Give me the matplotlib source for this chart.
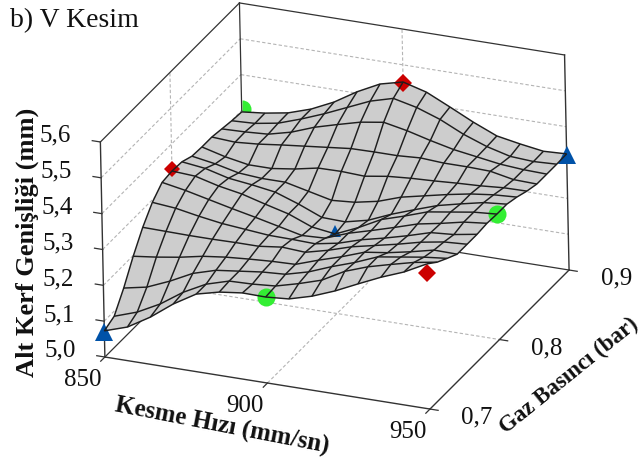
"""
V kesim için yanıt yüzeyi grafiği (Alt Kerf Genişliği)
"""

import numpy as np
import matplotlib
matplotlib.use("Agg")
import matplotlib.pyplot as plt
from mpl_toolkits.mplot3d import proj3d

plt.rcParams["font.family"] = ["Liberation Serif", "DejaVu Serif"]

# ── Veri ──────────────────────────────────────────────
X_TICKS = [850, 900, 950]
Y_TICKS = [0.7, 0.8, 0.9]
Z_TICKS = [5.0, 5.1, 5.2, 5.3, 5.4, 5.5, 5.6]

# rows: gas pressure 0.7 -> 0.9, columns: cutting speed 850 -> 950
SURFACE = [
    [5.073, 5.094, 5.132, 5.179, 5.217, 5.233, 5.241, 5.240, 5.245, 5.263, 5.288, 5.318, 5.347, 5.372, 5.405],
    [5.086, 5.108, 5.141, 5.184, 5.217, 5.236, 5.238, 5.243, 5.260, 5.280, 5.315, 5.338, 5.355, 5.371, 5.382],
    [5.137, 5.150, 5.177, 5.209, 5.228, 5.236, 5.244, 5.248, 5.265, 5.290, 5.312, 5.338, 5.348, 5.358, 5.365],
    [5.198, 5.206, 5.216, 5.229, 5.237, 5.242, 5.246, 5.248, 5.270, 5.290, 5.313, 5.322, 5.335, 5.350, 5.349],
    [5.251, 5.250, 5.249, 5.249, 5.250, 5.250, 5.258, 5.254, 5.270, 5.290, 5.304, 5.318, 5.334, 5.345, 5.349],
    [5.293, 5.287, 5.275, 5.265, 5.259, 5.253, 5.252, 5.250, 5.262, 5.282, 5.297, 5.314, 5.333, 5.338, 5.349],
    [5.321, 5.309, 5.294, 5.279, 5.265, 5.250, 5.235, 5.238, 5.262, 5.280, 5.299, 5.319, 5.331, 5.345, 5.352],
    [5.325, 5.321, 5.304, 5.292, 5.274, 5.257, 5.231, 5.222, 5.250, 5.283, 5.303, 5.325, 5.335, 5.345, 5.350],
    [5.323, 5.315, 5.298, 5.290, 5.280, 5.257, 5.230, 5.228, 5.243, 5.270, 5.293, 5.315, 5.330, 5.344, 5.350],
    [5.311, 5.300, 5.285, 5.280, 5.280, 5.265, 5.250, 5.255, 5.268, 5.290, 5.304, 5.318, 5.330, 5.338, 5.342],
    [5.309, 5.292, 5.280, 5.280, 5.289, 5.302, 5.303, 5.300, 5.310, 5.315, 5.318, 5.322, 5.325, 5.330, 5.331],
    [5.309, 5.305, 5.310, 5.318, 5.325, 5.332, 5.339, 5.340, 5.340, 5.344, 5.340, 5.340, 5.338, 5.325, 5.323],
    [5.304, 5.306, 5.310, 5.326, 5.350, 5.368, 5.385, 5.395, 5.382, 5.365, 5.350, 5.340, 5.330, 5.325, 5.323],
    [5.299, 5.302, 5.313, 5.335, 5.360, 5.388, 5.416, 5.434, 5.419, 5.396, 5.365, 5.341, 5.324, 5.320, 5.323],
    [5.296, 5.303, 5.314, 5.335, 5.365, 5.404, 5.436, 5.452, 5.434, 5.403, 5.371, 5.343, 5.331, 5.321, 5.324],
]

# measured points
BLUE_X = [850, 950]
BLUE_Y = [0.7, 0.9]
BLUE_Z = [5.07, 5.32]
BLUE_MID = (900, 0.8, 5.23)
GREEN_BACK = (850, 0.9, 5.305)
GREEN_X = [900, 950]
GREEN_Y = [0.7, 0.8]
GREEN_Z = [5.24, 5.35]
RED_X = [850, 900, 950]
RED_Y = [0.8, 0.9, 0.7]
RED_Z = [5.33, 5.45, 5.38]
RED_SIZE = [8, 9, 9]

LINE = "#333333"
GRID = "#b4b4b4"
WIRE = "#1e1e1e"
FACE = "#cdcdcd"
BLUE = "#0052a8"
GREEN = "#33ee33"
RED = "#cc0000"
TEXT = "#111111"

# ── Çizim ─────────────────────────────────────────────
fig = plt.figure(figsize=(6.43, 4.64), dpi=100)
ax = fig.add_axes([0.1532, 0.0448, 0.7154, 0.9914], projection="3d",
                  proj_type="ortho", computed_zorder=False)
ax.view_init(elev=24.66, azim=-66.48, roll=1.2)
ax.set_box_aspect((353.2, 355.6, 236.6), zoom=1.170)
ax.set_xlim(850, 950, view_margin=0)
ax.set_ylim(0.7, 0.9, view_margin=0)
ax.set_zlim(5.0, 5.6, view_margin=0)
ax.set_axis_off()
ax.patch.set_alpha(0)

x0, x1 = X_TICKS[0], X_TICKS[-1]
y0, y1 = Y_TICKS[0], Y_TICKS[-1]
z0, z1 = Z_TICKS[0], Z_TICKS[-1]


def seg(xs, ys, zs, **kw):
    ax.plot(xs, ys, zs, **{"color": LINE, "lw": 0.9, "zorder": 1, **kw})


def tick_label(x, y, z, s):
    # flat text at the projected position of a 3D point
    xp, yp, _ = proj3d.proj_transform(x, y, z, ax.get_proj())
    ax.text2D(xp, yp, s, transform=ax.transData, fontsize=18,
              ha="center", va="center", color=TEXT)


# dashed grid on the back walls and floor
dash = dict(color=GRID, lw=0.8, ls=(0, (3, 2)), zorder=0.5)
for z in Z_TICKS[1:-1]:
    seg([x0, x0], [y0, y1], [z, z], **dash)
    seg([x0, x1], [y1, y1], [z, z], **dash)
seg([X_TICKS[1]] * 2, [y1, y1], [z0, z1], **dash)
seg([x0, x0], [Y_TICKS[1]] * 2, [z0, z1], **dash)
seg([X_TICKS[1]] * 2, [y0, y1], [z0, z0], **dash)
seg([x0, x1], [Y_TICKS[1]] * 2, [z0, z0], **dash)

# green point sits in the corner, only its right half shows
ax.plot(*[[v] for v in GREEN_BACK], "o", color=GREEN, ms=13, mew=0, fillstyle="right",
        markerfacecoloralt="none", zorder=0.8)

# box edges
seg([x0, x0], [y1, y1], [z0, z1])
seg([x0, x1], [y1, y1], [z0, z0])
seg([x0, x0], [y0, y1], [z0, z0])
seg([x0, x0], [y0, y0], [z0, z1], lw=1.0)
seg([x1, x1], [y1, y1], [z0, z1], lw=1.0)
seg([x0, x0], [y0, y1], [z1, z1])
seg([x0, x1], [y1, y1], [z1, z1])
seg([x0, x1], [y0, y0], [z0, z0], lw=1.0, zorder=5)
seg([x1, x1], [y0, y1], [z0, z0], lw=1.0, zorder=5)

# ticks and tick labels
for v in X_TICKS:
    seg([v, v], [y0, y0 - 0.006], [z0, z0], zorder=5)
    tick_label(v, y0 - 0.032, z0, str(v))
for v in Y_TICKS:
    seg([x1, x1 + 2.5], [v, v], [z0, z0], zorder=5)
    tick_label(x1 + 14.5, v, z0, f"{v:.1f}".replace(".", ","))
for v in Z_TICKS:
    seg([x0, x0 - 2.5], [y0, y0], [v, v], zorder=5)
    tick_label(x0 - 13.8, y0, v, f"{v:.1f}".replace(".", ","))

# surface
xg = np.linspace(x0, x1, len(SURFACE[0]))
yg = np.linspace(y0, y1, len(SURFACE))
XX, YY = np.meshgrid(xg, yg)
ZZ = np.array(SURFACE)
ax.plot_surface(XX, YY, ZZ, rstride=1, cstride=1, color=FACE, edgecolor=FACE,
                linewidth=0.2, shade=False, zorder=2)

# markers
ax.plot(BLUE_X, BLUE_Y, BLUE_Z, "^", color=BLUE, ms=13, mew=0, ls="none", zorder=3)
ax.plot(*[[v] for v in BLUE_MID], "^", color=BLUE, ms=8.5, mew=0, zorder=3)
ax.plot(GREEN_X, GREEN_Y, GREEN_Z, "o", color=GREEN, ms=13, mew=0, ls="none", zorder=3)
for rx, ry, rz, rs in zip(RED_X, RED_Y, RED_Z, RED_SIZE):
    ax.plot([rx], [ry], [rz], "D", color=RED, ms=rs, mew=0, zorder=3)

ax.plot_wireframe(XX, YY, ZZ, rstride=1, cstride=1, color=WIRE, linewidth=1.05, zorder=4)

# the box is wider than the square axes
for art in list(ax.lines) + list(ax.collections):
    art.set_clip_on(False)

# ── Metinler ──────────────────────────────────────────
W, H = 643.0, 464.0
fig.text(10 / W, 1 - 21 / H, "b) V Kesim", fontsize=20, ha="left", va="center", color=TEXT)
fig.text(27 / W, 1 - 242 / H, "Alt Kerf Genişliği (mm)", fontsize=19, fontweight="bold",
         rotation=90, ha="center", va="center", color=TEXT)
fig.text(222 / W, 1 - 426 / H, "Kesme Hızı (mm/sn)", fontsize=18, fontweight="bold",
         rotation=-11, ha="center", va="center", color=TEXT)
fig.text(569 / W, 1 - 376 / H, "Gaz Basıncı (bar)", fontsize=16.5, fontweight="bold",
         rotation=39, ha="center", va="center", color=TEXT)

fig.savefig("out.png", dpi=100)
